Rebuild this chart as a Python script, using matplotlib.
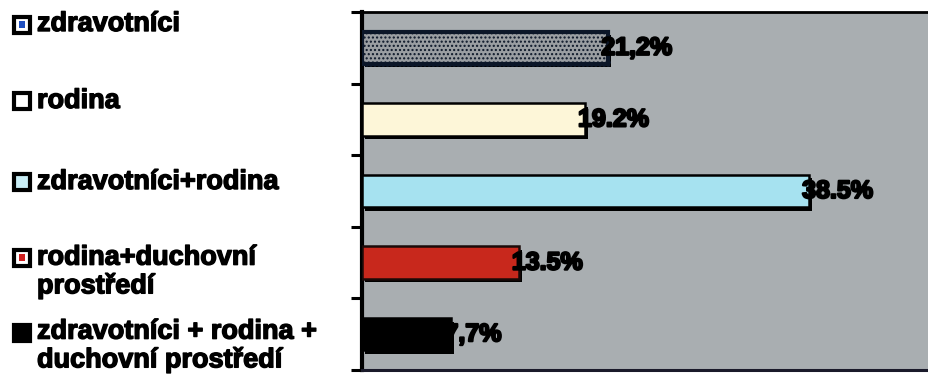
import matplotlib
matplotlib.use("Agg")
import matplotlib.pyplot as plt
import matplotlib.patheffects as pe
from matplotlib.patches import Rectangle
import numpy as np

categories = ["zdravotníci", "rodina", "zdravotníci+rodina",
              "rodina+duchovní\nprostředí", "zdravotníci + rodina +\nduchovní prostředí"]
values = [21.2, 19.2, 38.5, 13.5, 7.7]
value_labels = ["21,2%", "19.2%", "38.5%", "13.5%", "7,7%"]

bar_faces = ["#9a9ea2", "#fdf6d8", "#a6e2f0", "#c8281c", "#000000"]
bar_edges = ["#0b1628", "#000000", "#000000", "#1a0a08", "#000000"]
bar_lw = [3.0, 1.8, 1.8, 1.8, 1.8]
bar_hatch = ["....", None, None, None, None]
legend_inner = ["#1f4fc0", None, None, "#d02020", None]
legend_outer_fill = ["#ffffff", "#ffffff", "#c9eef6", "#ffffff", "#000000"]
legend_y_px = [24, 101, 182, 272, 346]
legend_sq_px = [25, 101, 182, 258, 333]

W, H = 929, 376
fig = plt.figure(figsize=(W / 100, H / 100), dpi=100)
fig.patch.set_facecolor("white")

ax = fig.add_axes([362 / W, 1 - 370 / H, 0.625, (370 - 12) / H])
ax.set_facecolor("#a9aeb1")

heavy = [pe.withStroke(linewidth=1.6, foreground="black")]

y = np.arange(len(values))
for i in range(len(values)):
    b = ax.barh(y[i], values[i], height=0.45, color=bar_faces[i],
                edgecolor=bar_edges[i], linewidth=bar_lw[i], hatch=bar_hatch[i],
                zorder=3)
    for p in b:
        p.set_path_effects([pe.SimplePatchShadow(offset=(2, -2.5), shadow_rgbFace="black", alpha=1.0),
                            pe.Normal()])
    ax.annotate(value_labels[i], xy=(values[i], y[i]), xytext=(-5, 0),
                textcoords="offset points", va="center", ha="left",
                fontsize=18, fontweight="bold", family="Liberation Sans",
                color="black", zorder=5, path_effects=heavy)

ax.set_xlim(0, 50)
ax.set_ylim(len(values) - 0.5, -0.5)
ax.set_xticks([])
ax.set_yticks(np.arange(-0.5, len(values)), labels=[""] * (len(values) + 1))
ax.tick_params(axis="y", direction="out", length=8, width=2.2, color="black")
ax.spines["left"].set_linewidth(3)
ax.spines["top"].set_linewidth(2)
ax.spines["bottom"].set_linewidth(2.2)
ax.spines["bottom"].set_color("#1a1a2a")
ax.spines["right"].set_visible(False)

# legend-like labels on the left
for i, lab in enumerate(categories):
    fy = 1 - legend_y_px[i] / H
    sy = 1 - legend_sq_px[i] / H
    sq = 16
    fig.add_artist(Rectangle((14 / W, sy - sq / 2 / H), sq / W, sq / H,
                             transform=fig.transFigure, facecolor=legend_outer_fill[i],
                             edgecolor="black", linewidth=3))
    if legend_inner[i] is not None:
        fig.add_artist(Rectangle(((14 + 5) / W, sy - 3 / H), 6 / W, 7 / H,
                                 transform=fig.transFigure, facecolor=legend_inner[i],
                                 edgecolor="none"))
    fig.text(37 / W, fy, lab, ha="left", va="center", fontsize=19.5,
             fontweight="bold", family="Liberation Sans", linespacing=1.08,
             path_effects=[pe.withStroke(linewidth=1.0, foreground="black")])

fig.savefig("out.png", dpi=100, facecolor="white")
